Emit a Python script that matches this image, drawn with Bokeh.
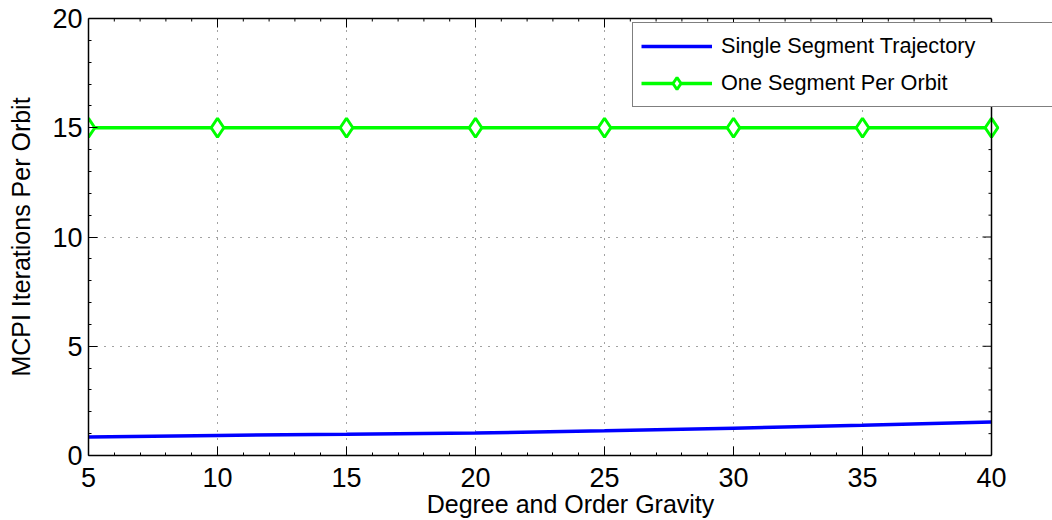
import math
from bokeh.plotting import figure
from bokeh.models import LinearAxis, Legend, LegendItem, Range1d, FixedTicker, Span
from bokeh.embed import file_html
from bokeh.resources import INLINE

degree = [5, 10, 15, 20, 25, 30, 35, 40]
single_segment = [0.85, 0.92, 0.97, 1.03, 1.13, 1.25, 1.38, 1.53]
one_per_orbit = [15, 15, 15, 15, 15, 15, 15, 15]
x_ticks = [5, 10, 15, 20, 25, 30, 35, 40]
y_ticks = [0, 5, 10, 15, 20]

FONT = "Liberation Sans"
W, H = 1052, 520
LEFT, BOTTOM, TOP = 88, 64, 18
PLOT_RIGHT_PX = 991  # where x=40 sits; the frame runs on to the page edge so the legend can overhang
x0, x1 = x_ticks[0], x_ticks[-1]
y0, y1 = y_ticks[0], y_ticks[-1]
px_per_unit = (PLOT_RIGHT_PX - LEFT) / (x1 - x0)
x_end = x0 + (W - LEFT) / px_per_unit

p = figure(width=W, height=H, output_backend="svg", toolbar_location=None,
           x_range=Range1d(x0, x_end), y_range=Range1d(y0, y1),
           min_border_left=LEFT, min_border_right=0, min_border_top=TOP, min_border_bottom=BOTTOM)
p.outline_line_color = None
p.background_fill_color = "white"
p.border_fill_color = "white"

x_minor = [x + k for x in x_ticks[:-1] for k in range(1, 5)]
y_minor = [y + k for y in y_ticks[:-1] for k in range(1, 5)]

for ax in [p.xaxis[0], p.yaxis[0]]:
    ax.major_label_text_font = FONT
    ax.major_label_text_font_size = "27px"
    ax.major_label_text_color = "black"
    ax.axis_label_text_font = FONT
    ax.axis_label_text_font_size = "25px"
    ax.axis_label_text_font_style = "normal"
    ax.axis_label_text_color = "black"
    ax.major_tick_in = 9
    ax.major_tick_out = 0
    ax.minor_tick_in = 3
    ax.minor_tick_out = 0
    ax.axis_line_width = 1.5
    ax.axis_line_color = "black"
    ax.major_tick_line_color = "black"
    ax.minor_tick_line_color = "black"

p.xaxis[0].ticker = FixedTicker(ticks=x_ticks, minor_ticks=x_minor)
p.yaxis[0].ticker = FixedTicker(ticks=y_ticks, minor_ticks=y_minor)
p.xaxis[0].bounds = (x0, x1)
p.xaxis[0].axis_label = "Degree and Order Gravity"
p.yaxis[0].axis_label = "MCPI Iterations Per Orbit"
p.xaxis[0].major_label_standoff = 12
p.yaxis[0].major_label_standoff = 6
p.xaxis[0].axis_label_standoff = 0
p.yaxis[0].axis_label_standoff = 14

# top border line (no labels)
top = LinearAxis(ticker=FixedTicker(ticks=[]), bounds=(x0, x1),
                 major_tick_in=0, major_tick_out=0, minor_tick_in=0, minor_tick_out=0,
                 axis_line_width=1.5, axis_line_color="black", major_label_standoff=0)
p.add_layout(top, "above")

# grid
for g in [p.xgrid[0], p.ygrid[0]]:
    g.grid_line_color = "#444444"
    g.grid_line_dash = "1 7"
    g.grid_line_width = 1
p.xgrid[0].ticker = FixedTicker(ticks=x_ticks[1:-1])
p.ygrid[0].ticker = FixedTicker(ticks=y_ticks[1:-1])
if hasattr(p.ygrid[0], "cross_bounds"):
    p.ygrid[0].cross_bounds = (x0, x1)

# top ticks (pointing down) and right border with inward ticks
p.ray(x=x_ticks, y=[y1] * len(x_ticks), length=9, length_units="screen", angle=-math.pi / 2,
      line_color="black", line_width=1)
p.ray(x=x_minor, y=[y1] * len(x_minor), length=3, length_units="screen", angle=-math.pi / 2,
      line_color="black", line_width=1)
p.add_layout(Span(location=x1, dimension="height", line_color="black", line_width=1.5))
p.ray(x=[x1] * len(y_ticks), y=y_ticks, length=9, length_units="screen", angle=math.pi,
      line_color="black", line_width=1)
p.ray(x=[x1] * len(y_minor), y=y_minor, length=3, length_units="screen", angle=math.pi,
      line_color="black", line_width=1)

r1 = p.line(degree, single_segment, line_color="#0000ff", line_width=3.5)
r2 = p.line(degree, one_per_orbit, line_color="#00ff00", line_width=3.5)
r3 = p.scatter(degree, one_per_orbit, marker="diamond", size=19, line_color="#00ff00",
               line_width=3, fill_color="white")

legend = Legend(items=[LegendItem(label="Single Segment Trajectory", renderers=[r1]),
                       LegendItem(label="One Segment Per Orbit", renderers=[r2, r3])],
                location=(544, 348), orientation="vertical",
                label_text_font=FONT, label_text_font_size="21.7px", label_text_color="black",
                glyph_width=71, glyph_height=30, label_height=30, label_width=340,
                label_standoff=9, spacing=7, padding=8, margin=0,
                border_line_color="black", border_line_width=1.2,
                background_fill_color="white", background_fill_alpha=1)
p.add_layout(legend, "center")

open("out.html", "w").write(file_html(p, INLINE))
